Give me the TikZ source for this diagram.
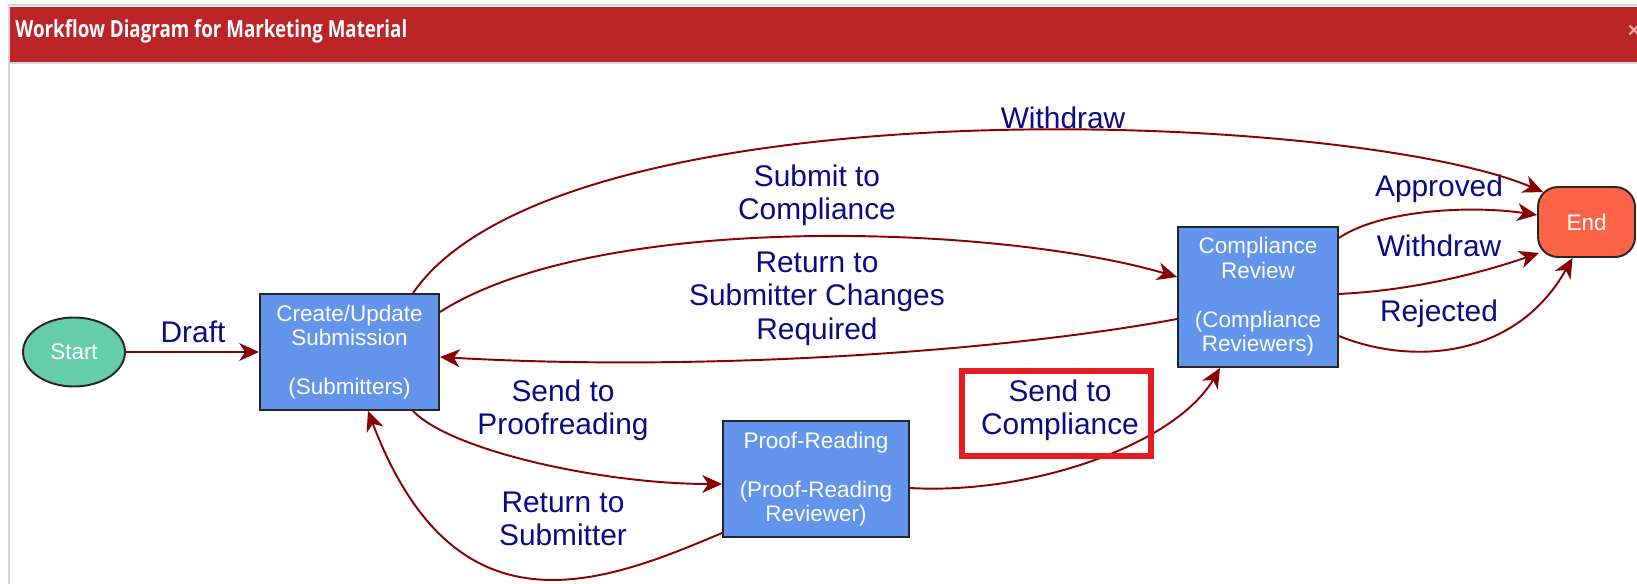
\documentclass[tikz,border=0pt]{standalone}
\usepackage{fontspec}
\usepackage{graphicx}
\setmainfont{Liberation Sans}
\newfontfamily\titlefont{Open Sans}
\usetikzlibrary{arrows.meta,calc,shapes.geometric}
\definecolor{titlered}{HTML}{BB2528}
\definecolor{framegray}{HTML}{D6D6D6}
\definecolor{boxblue}{HTML}{6495ED}
\definecolor{startgreen}{HTML}{66CDAA}
\definecolor{endred}{HTML}{FF6347}
\definecolor{edgered}{HTML}{8B0000}
\definecolor{lblnavy}{HTML}{0A0A85}
\definecolor{hlred}{HTML}{E41E20}
\definecolor{xpink}{HTML}{EBA5A5}
\tikzset{
  nodefont/.style={font=\fontsize{12.8}{13.9}\selectfont},
  stepbox/.style={draw=black!85, line width=1.1pt, fill=boxblue, text=white,
    align=center, nodefont, inner sep=0pt},
  lbl/.style={text=lblnavy, align=center, font=\fontsize{17}{19}\selectfont, inner sep=0pt},
  flow/.style={draw=edgered, line width=1.1pt,
    -{Stealth[length=11.3pt,width=10.2pt,inset=3.4pt]}},
}
\begin{document}
\begin{tikzpicture}[x=0.02cm,y=-0.02cm]
\useasboundingbox (0,0) rectangle (1637,584);
\fill[white] (0,0) rectangle (1637,584);
% window frame
\draw[framegray, line width=1.1pt] (9,584) -- (9,5) -- (1637,5);
\fill[titlered] (10,7.5) rectangle (1637,62);
\draw[framegray, line width=0.6pt] (10,63) -- (1637,63);
\node[anchor=base west, inner sep=0pt, text=white] (title) at (15,38)
  {\resizebox{7.84cm}{0.36cm}{\titlefont\bfseries Workflow Diagram for Marketing Material}};
\node[text=xpink, inner sep=0pt, font=\fontsize{12}{12}\selectfont\bfseries] (close) at (1634,31) {×};

% nodes
\node[ellipse, draw=black!85, line width=1.1pt, fill=startgreen, text=white, nodefont,
  minimum width=2.04cm, minimum height=1.38cm, inner sep=0pt] (start) at (74,352) {Start};
\node[stepbox, minimum width=3.58cm, minimum height=2.32cm] (cu) at (349.5,352)
  {Create/Update\\Submission\\\mbox{}\\(Submitters)};
\node[stepbox, minimum width=3.72cm, minimum height=2.32cm] (pr) at (816,479)
  {Proof-Reading\\\mbox{}\\(Proof-Reading\\Reviewer)};
\node[stepbox, minimum width=3.2cm, minimum height=2.8cm] (cr) at (1258,297)
  {Compliance\\Review\\\mbox{}\\(Compliance\\Reviewers)};
\node[draw=black!85, line width=1.1pt, fill=endred, text=white, nodefont,
  rounded corners=0.4cm, minimum width=1.94cm, minimum height=1.4cm, inner sep=0pt]
  (end) at (1586.5,222) {End};

% labels
\node[lbl] (ldraft) at (193,332) {Draft};
\node[lbl] (lwd1) at (1063,118) {Withdraw};
\node[lbl] (lsub) at (817,195) {Submit to\\Compliance};
\node[lbl] (lret1) at (817,298.5) {Return to\\Submitter Changes\\Required};
\node[lbl] (lproof) at (563,410) {Send to\\Proofreading};
\node[lbl] (lret2) at (563,519) {Return to\\Submitter};
\node[lbl] (lsend) at (1060,410) {Send to\\Compliance};
\node[lbl] (lapp) at (1439,189) {Approved};
\node[lbl] (lwd2) at (1439,245.5) {Withdraw};
\node[lbl] (lrej) at (1439,314) {Rejected};

% connectors
\draw[flow] (start.east) -- (cu.west);
\draw[flow] ($(cu.north)+(63.5,0)$) .. controls (560,80) and (1350,110) .. ($(end.north west)+(6,6)$);
\draw[flow] ($(cu.east)+(0,-40)$) .. controls (600,210) and (1000,225) .. ($(cr.west)+(0,-20)$);
\draw[flow] ($(cr.west)+(0,22)$) .. controls (1000,352) and (700,372) .. ($(cu.east)+(0,5)$);
\draw[flow] ($(cu.south)+(63.5,0)$) .. controls (450,450) and (600,484) .. ($(pr.west)+(0,5)$);
\draw[flow] ($(pr.south west)+(0,-5)$) .. controls (600,585) and (455,640) .. ($(cu.south)+(18.5,0)$);
\draw[flow] ($(pr.east)+(0,9)$) .. controls (1030,495) and (1175,445) .. ($(cr.south)+(-38,0)$);
\draw[flow] ($(cr.east)+(0,-59)$) .. controls (1380,210) and (1470,205) .. ($(end.west)+(0,-7)$);
\draw[flow] ($(cr.east)+(0,-3)$) .. controls (1420,290) and (1490,270) .. ($(end.south west)+(2,-5)$);
\draw[flow] ($(cr.east)+(0,39)$) .. controls (1410,365) and (1515,360) .. ($(end.south)+(-14,0)$);

% highlight
\node[draw=hlred, line width=3.6pt, minimum width=3.78cm, minimum height=1.7cm, inner sep=0pt]
  (hl) at (1056.5,413.5) {};
\end{tikzpicture}
\end{document}
